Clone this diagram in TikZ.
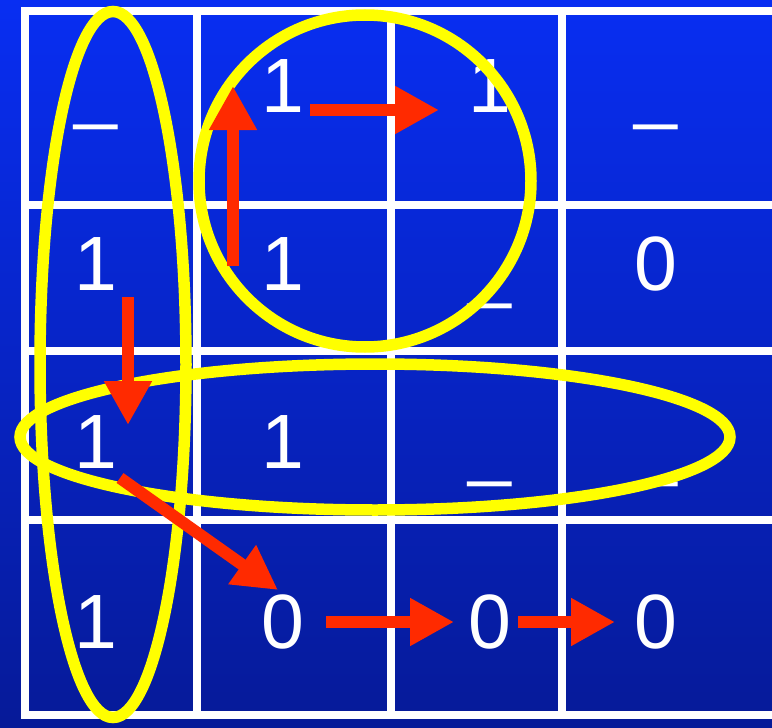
\documentclass[tikz,border=0pt]{standalone}
\usepackage{fontspec}
\setmainfont{Liberation Sans}
\usetikzlibrary{arrows.meta}
\definecolor{slidetop}{RGB}{8,46,242}
\definecolor{slidebot}{RGB}{6,26,152}
\definecolor{kyellow}{RGB}{255,255,0}
\definecolor{kred}{RGB}{255,42,0}

\begin{document}
\begin{tikzpicture}[x=1pt, y=-1pt,
    >={Triangle[length=44pt,width=45pt]},
    entry/.style={text=white, font=\fontsize{77}{77}\selectfont, anchor=base, inner sep=0pt},
    blank/.style={entry, yshift=-2pt},
    gridline/.style={white, line width=8pt},
    ring/.style={draw=kyellow, line width=11.5pt},
    hop/.style={->, draw=kred, fill=kred, line width=12pt}]
  \useasboundingbox (0,0) rectangle (772,728);
  \shade[top color=slidetop, bottom color=slidebot] (0,0) rectangle (772,728);
  \foreach \x in {25,197,391,562} { \draw[gridline] (\x,7) -- (\x,719); }
  \foreach \y in {11,205,351,520,715} { \draw[gridline] (21,\y) -- (772,\y); }
  % map entries
  \node[blank] (c11) at (96,112) {\_};
  \node[entry] (c12) at (283,112) {1};
  \node[entry] (c13) at (490,112) {1};
  \node[blank] (c14) at (656,112) {\_};
  \node[entry] (c21) at (96,290) {1};
  \node[entry] (c22) at (283,290) {1};
  \node[blank] (c23) at (490,291) {\_};
  \node[entry] (c24) at (656,290) {0};
  \node[entry] (c31) at (96,468) {1};
  \node[entry] (c32) at (283,468) {1};
  \node[blank] (c33) at (490,469) {\_};
  \node[blank] (c34) at (656,469) {\_};
  \node[entry] (c41) at (96,648) {1};
  \node[entry] (c42) at (283,648) {0};
  \node[entry] (c43) at (490,648) {0};
  \node[entry] (c44) at (656,648) {0};
  % groups
  \draw[ring] (113,364.5) ellipse [x radius=73, y radius=353];
  \draw[ring] (365,181) circle [radius=166];
  \draw[ring] (375,437) ellipse [x radius=355, y radius=73];
  % moves
  \coordinate (upA) at (233,266);  \coordinate (upB) at (233,86);
  \coordinate (rtA) at (310,110);  \coordinate (rtB) at (439,110);
  \coordinate (dnA) at (128,297);  \coordinate (dnB) at (128,425);
  \coordinate (dgA) at (120,478);  \coordinate (dgB) at (278,590);
  \coordinate (b1A) at (326,622);  \coordinate (b1B) at (454,622);
  \coordinate (b2A) at (518,622);  \coordinate (b2B) at (615,622);
  \foreach \s/\e in {upA/upB, rtA/rtB, dnA/dnB, dgA/dgB, b1A/b1B, b2A/b2B}
    { \draw[hop] (\s) -- (\e); }
\end{tikzpicture}
\end{document}
